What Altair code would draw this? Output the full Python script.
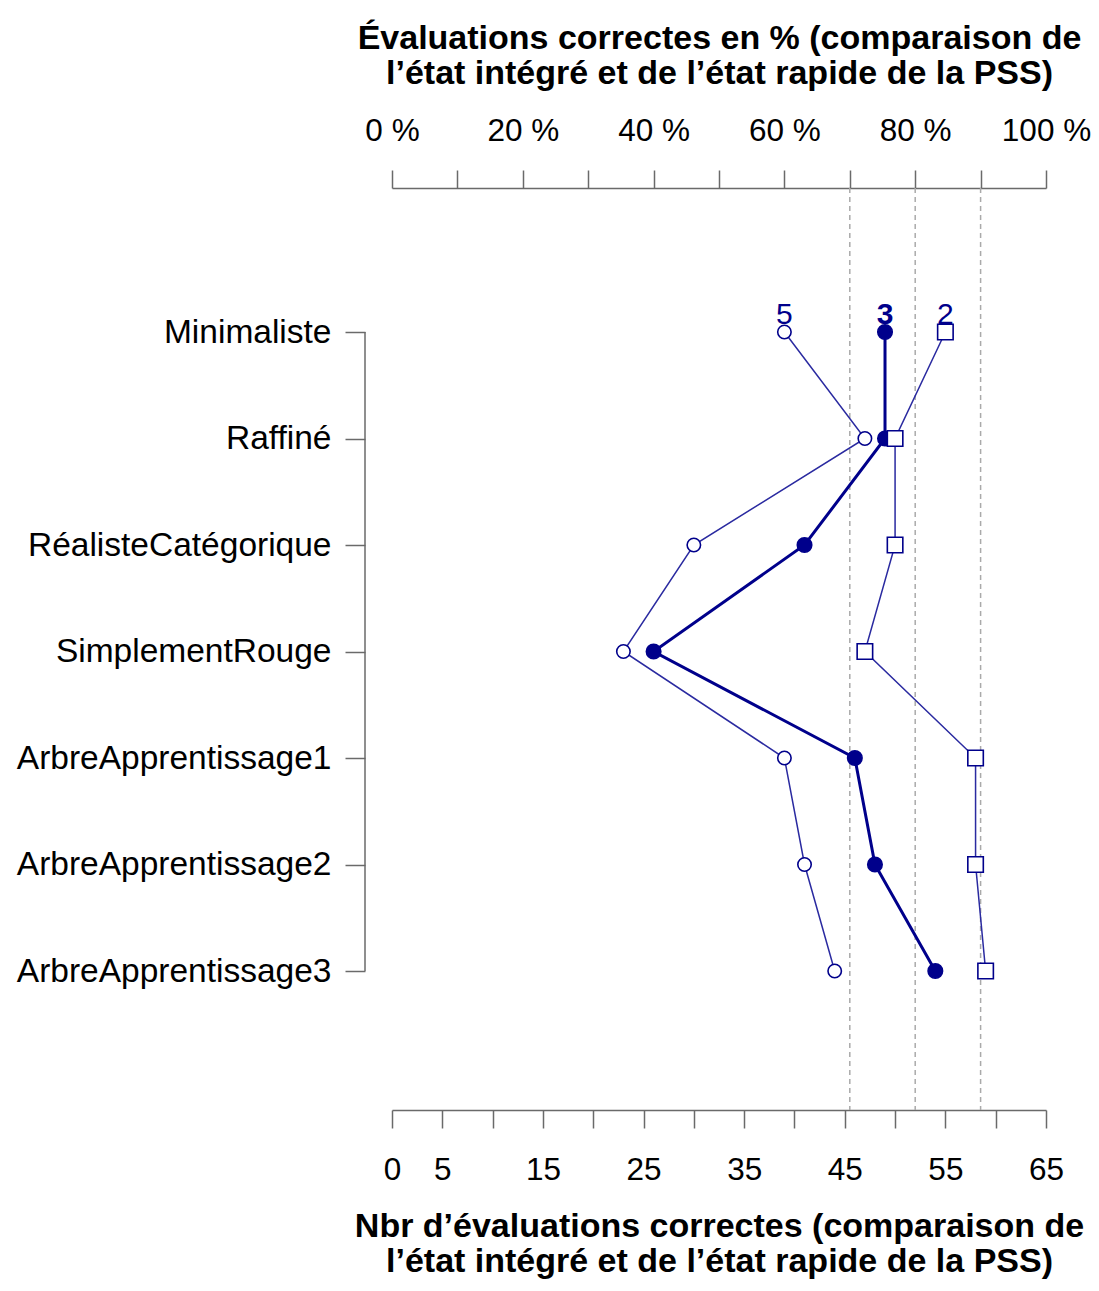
import altair as alt
import pandas as pd

categories = ["Minimaliste", "Raffiné", "RéalisteCatégorique", "SimplementRouge",
              "ArbreApprentissage1", "ArbreApprentissage2", "ArbreApprentissage3"]
serie_5 = [39, 47, 30, 23, 39, 41, 44]
serie_3 = [49, 49, 41, 26, 46, 48, 54]
serie_2 = [55, 50, 50, 47, 58, 58, 59]
series_names = ["5", "3", "2"]
pct_ticks = list(range(0, 101, 10))
count_ticks = list(range(0, 66, 5))
ref_pct = [70, 80, 90]
top_title = ["Évaluations correctes en % (comparaison de",
             "l’état intégré et de l’état rapide de la PSS)"]
bottom_title = ["Nbr d’évaluations correctes (comparaison de",
                "l’état intégré et de l’état rapide de la PSS)"]

rows = []
for name, vals in zip(series_names, [serie_5, serie_3, serie_2]):
    for i, (c, v) in enumerate(zip(categories, vals)):
        rows.append({"serie": name, "cat": c, "n": v, "ordre": i})
df = pd.DataFrame(rows)
first_row = df[df["ordre"] == 0]

NAVY = "#00008B"
THIN = "#2a2aa0"
AXIS = "#6a6a6a"
FONT = "Liberation Sans"

axis_common = dict(domainColor=AXIS, tickColor=AXIS, domainWidth=1.5, tickWidth=1.5,
                   labelFont=FONT, labelFontSize=31.5, labelColor="black",
                   titleFont=FONT, titleFontSize=34, titleFontWeight="bold",
                   titleColor="black", titleLineHeight=35, grid=False,
                   labelFlush=False, labelOverlap=False)

y_scale = alt.Scale(type="point", domain=categories, range=[144, 783], padding=0)
x_scale = alt.Scale(domain=[0, 65], nice=False, zero=True)

y_enc = alt.Y("cat:N", scale=y_scale,
              axis=alt.Axis(title=None, domain=False, offset=27, tickSize=20,
                            labelPadding=14, tickColor=AXIS, tickWidth=1.5, labelLimit=0,
                            labelFont=FONT, labelFontSize=33.5, labelColor="black"))
x_enc = alt.X("n:Q", scale=x_scale,
              axis=alt.Axis(orient="bottom", values=count_ticks, tickSize=18,
                            labelPadding=26,
                            labelExpr="(datum.value == 0 || datum.value % 10 == 5) ? datum.label : ''",
                            title=bottom_title, titlePadding=24, **axis_common))

dash = alt.Chart(pd.DataFrame({"p": ref_pct})).mark_rule(
    strokeDash=[5, 4], color="#aaaaaa", strokeWidth=1.5
).encode(
    x=alt.X("p:Q", scale=alt.Scale(domain=[0, 100], nice=False, zero=True),
            axis=alt.Axis(orient="top", values=pct_ticks, tickSize=18, labelPadding=23,
                          labelExpr="datum.value % 20 == 0 ? datum.value + ' %' : ''",
                          title=top_title, titlePadding=25, **axis_common))
)

base = alt.Chart(df)
widths = {"5": 1.5, "3": 3, "2": 1.5}
colors = {"5": THIN, "3": NAVY, "2": THIN}

line_layers = []
for s in series_names:
    line_layers.append(
        base.transform_filter(alt.datum.serie == s).mark_line(
            color=colors[s], strokeWidth=widths[s]
        ).encode(x=x_enc, y=y_enc, order="ordre:Q")
    )

points = base.mark_point(stroke=NAVY, strokeWidth=1.6, opacity=1, fillOpacity=1).encode(
    x="n:Q", y="cat:N",
    shape=alt.Shape("serie:N", scale=alt.Scale(domain=series_names, range=["circle", "circle", "square"]), legend=None),
    fill=alt.Fill("serie:N", scale=alt.Scale(domain=series_names, range=["white", NAVY, "white"]), legend=None),
    size=alt.Size("serie:N", scale=alt.Scale(domain=series_names, range=[180, 240, 190]), legend=None),
)

labels_thin = alt.Chart(first_row[first_row["serie"] != "3"]).mark_text(
    dy=-8, baseline="alphabetic", fontSize=30, font=FONT, color=NAVY
).encode(x="n:Q", y="cat:N", text="serie:N")

labels_bold = alt.Chart(first_row[first_row["serie"] == "3"]).mark_text(
    dy=-8, baseline="alphabetic", fontSize=30, font=FONT, fontWeight="bold", color=NAVY
).encode(x="n:Q", y="cat:N", text="serie:N")

ydomain = alt.Chart(pd.DataFrame({"a": [categories[0]], "b": [categories[-1]]})).mark_rule(
    color=AXIS, strokeWidth=1.5
).encode(y=alt.Y("a:N", scale=y_scale), y2="b:N", x=alt.value(-27))

inner = alt.layer(*line_layers, points, labels_thin, labels_bold, ydomain)

chart = alt.layer(dash, inner).resolve_scale(x="independent").properties(
    width=654, height=922,
    padding={"left": 384, "top": 180, "right": 45, "bottom": 173},
    autosize=alt.AutoSizeParams(type="none"),
).configure_view(stroke=None)

chart.save("out.html", embed_options={"renderer": "svg", "actions": False})
